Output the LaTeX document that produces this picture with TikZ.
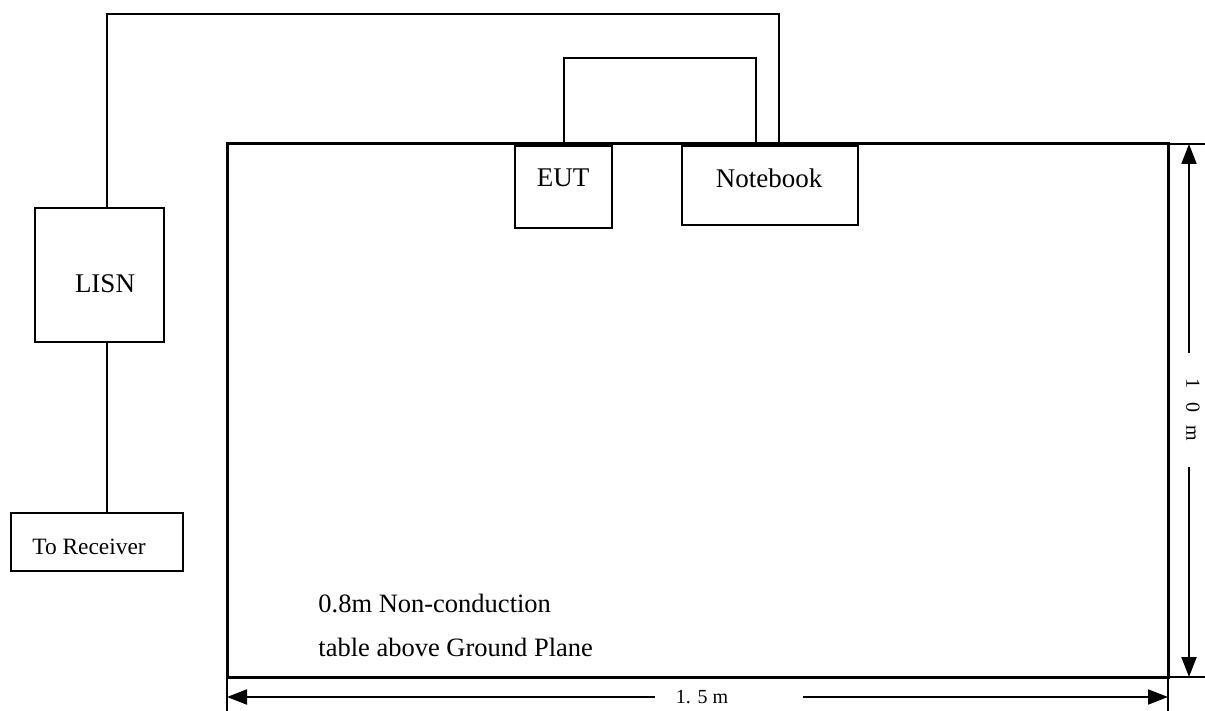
\documentclass[tikz,border=0pt]{standalone}
\usepackage{fontspec}
\setmainfont{Liberation Serif}
\usetikzlibrary{arrows.meta,calc}
\begin{document}
\begin{tikzpicture}[x=0.5pt,y=-0.5pt,
  box/.style={draw,line width=1pt,inner sep=0pt,outer sep=0pt},
  wire/.style={line width=1pt},
  txt/.style={font=\fontsize{13.5}{16}\selectfont,inner sep=0pt},
  smalltxt/.style={font=\fontsize{11.7}{14}\selectfont,inner sep=0pt},
  dimtxt/.style={font=\fontsize{10}{12}\selectfont,inner sep=0pt},
  dimline/.style={line width=1pt,-{Triangle[length=10pt,width=7.5pt]}},
  extline/.style={line width=0.6pt}]
\useasboundingbox (0,0) rectangle (1205,711);

% table
\node[box,line width=1.5pt,minimum width=470.5pt,minimum height=266.5pt] (Table) at (697.5,410.5) {};

% boxes
\node[box,minimum width=48.5pt,minimum height=41pt] (EUT) at (563.5,187) {};
\node[box,minimum width=88pt,minimum height=39.5pt] (Notebook) at (770,185.5) {};
\node[box,minimum width=64.5pt,minimum height=67pt] (LISN) at (99.5,275) {};
\node[box,minimum width=86pt,minimum height=29pt] (Receiver) at (97,542) {};

% texts
\node[txt] (EUTtext) at (563,178) {EUT};
\node[txt] (Notebooktext) at (769,178) {Notebook};
\node[txt] (LISNtext) at (105,284) {LISN};
\node[smalltxt] (Receivertext) at (89,547) {To Receiver};
\node[txt,anchor=west,font=\fontsize{13.25}{16}\selectfont] (tabletext1) at (318,603) {0.8m Non-conduction};
\node[txt,anchor=west,font=\fontsize{13.25}{16}\selectfont] (tabletext2) at (318,647) {table above Ground Plane};

% wires
\draw[wire] (EUT.north) -- ++(0,-88) -| (756,0 |- Notebook.north);
\draw[wire] (779,0 |- Notebook.north) -- (779,14) -| (107,0 |- LISN.north);
\draw[wire] (107,0 |- LISN.south) -- (107,0 |- Receiver.north);

% extension lines
\draw[extline] (Table.north east) -- ++(37,0);
\draw[extline] (Table.south east) -- ++(37,0);
\draw[extline] (Table.south west) -- ++(0,34);
\draw[extline] (Table.south east) -- ++(0,34);

% vertical dimension
\node[dimtxt,rotate=-90] (vlab) at (1193,410) {1\hspace{6.8pt}0\hspace{6.8pt}m};
\coordinate (vtop) at (1189,353);
\coordinate (vbot) at (1189,467);
\draw[dimline] (vtop) -- (vtop |- Table.north);
\draw[dimline] (vbot) -- (vbot |- Table.south);

% horizontal dimension
\node[dimtxt] (hlab) at (702,697) {1. 5 m};
\coordinate (hleft) at (655,697);
\coordinate (hright) at (803,697);
\draw[dimline] (hleft) -- (Table.south west |- hleft);
\draw[dimline] (hright) -- (Table.south east |- hright);
\end{tikzpicture}
\end{document}
